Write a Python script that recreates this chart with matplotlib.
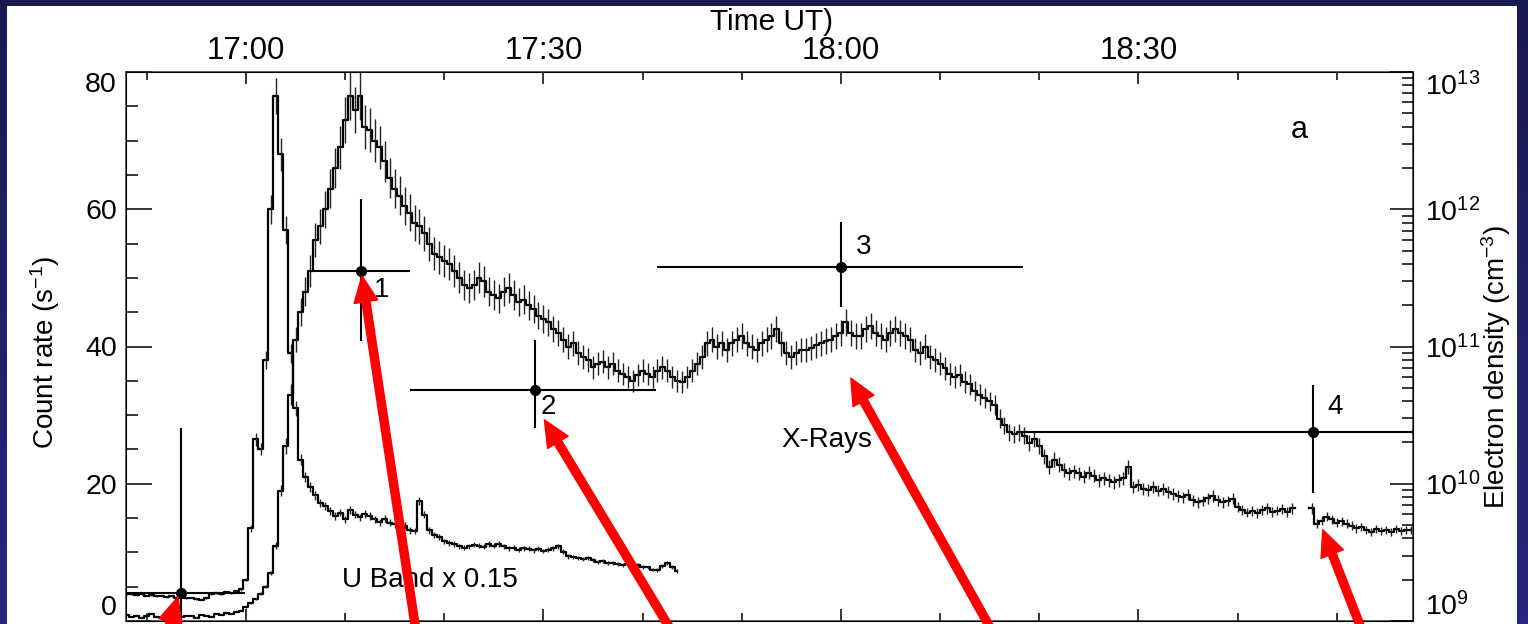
import numpy as np
import matplotlib
matplotlib.use("Agg")
from matplotlib import pyplot as plt
from matplotlib.ticker import MultipleLocator, FuncFormatter, LogLocator, NullFormatter

plt.rcParams['font.family'] = ['Liberation Sans', 'DejaVu Sans']
plt.rcParams['mathtext.fontset'] = 'custom'
plt.rcParams['mathtext.rm'] = 'Liberation Sans'
plt.rcParams['mathtext.it'] = 'Liberation Sans:italic'

# light curves: 30 s bins, first bin centre in minutes after 17:00 UT
xray_t0 = -12.0
xray_rate = [
    0.9, 0.6, 0.8, 0.5, 0.7, 1.0, 0.6, 0.4, 0.7, 0.9, 0.5, 0.6,
    0.8, 0.7, 0.5, 0.9, 0.8, 0.6, 1.0, 0.9, 1.1, 1.0, 1.3, 1.5,
    2.0, 2.6, 3.2, 4.0, 5.0, 7.0, 11.0, 19.0, 25.5, 33.0,
    41.0, 45.0, 48.0, 51.0, 55.5, 57.5, 60.0, 63.0, 66.0, 69.0,
    73.0, 76.5, 74.5, 76.5, 72.0, 71.5, 70.0, 69.0, 67.0, 64.5,
    63.0, 62.0, 60.5, 59.5, 58.0, 57.5, 56.5, 55.0, 53.5, 53.0,
    52.5, 52.0, 51.0, 50.0, 49.0, 48.5, 49.0, 50.0, 49.5, 48.0,
    47.5, 47.0, 48.0, 48.5, 47.5, 46.5, 46.8, 46.0, 45.5, 44.5,
    44.0, 43.5, 42.5, 42.0, 41.0, 40.0, 40.5, 39.0, 38.5, 38.0,
    37.0, 37.5, 37.8, 37.0, 37.5, 36.5, 36.0, 35.5, 35.0, 35.8,
    36.5, 36.0, 35.5, 36.5, 37.0, 36.5, 35.5, 35.0, 34.8, 35.5,
    36.5, 37.5, 38.5, 40.5, 41.0, 40.0, 40.5, 39.5, 40.5, 41.0,
    41.5, 40.5, 40.0, 39.5, 40.5, 41.0, 41.5, 42.5, 40.5, 39.0,
    38.5, 39.0, 39.5, 39.5, 39.8, 40.2, 40.5, 40.8, 41.0, 41.5,
    42.0, 43.5, 42.0, 41.5, 41.5, 42.5, 43.0, 42.0, 41.5, 41.0,
    42.0, 42.5, 42.0, 41.5, 41.0, 39.5, 39.0, 40.0, 38.5, 38.0,
    37.5, 36.8, 36.0, 35.5, 35.8, 34.8, 34.5, 33.5, 33.0, 32.5,
    32.0, 31.5, 29.5, 28.5, 27.5, 27.2, 27.5, 27.0, 26.0, 26.5,
    25.5, 24.0, 22.5, 23.5, 22.8, 22.0, 21.5, 21.8, 21.5, 21.0,
    21.6, 21.2, 20.5, 20.8, 20.5, 20.2, 20.5, 20.8, 22.5, 19.5,
    19.8, 19.3, 19.1, 19.5, 19.0, 19.2, 18.8, 18.5, 18.2, 18.0,
    18.4, 17.6, 17.3, 17.5, 17.9, 18.2, 17.6, 17.3, 17.5, 17.8,
    16.6, 16.2, 15.8, 16.0, 15.7, 16.2, 16.4, 15.9, 16.1, 16.3,
    15.9, 16.4, np.nan, np.nan, np.nan, 16.4, 14.2, 14.6, 15.2, 14.8,
    14.3, 14.5, 14.2, 13.9, 13.5, 13.7, 13.2, 12.9, 13.4, 13.1,
    13.3, 13.0, 13.4, 13.1, 13.3, 13.2,
]

uband_t0 = -12.0
uband_rate = [  # already multiplied by 0.15
    3.9, 4.0, 3.8, 3.9, 3.7, 3.8, 3.6, 3.7, 3.5, 3.6, 3.4, 3.5,
    3.3, 3.4, 3.2, 3.1, 3.3, 3.9, 4.1, 4.0, 4.2, 4.1, 4.3, 4.6,
    6.0, 13.5, 26.5, 25.0, 38.0, 60.0, 76.5, 68.0, 57.0, 39.0,
    31.0, 23.5, 21.0, 19.5, 18.3, 17.2, 16.8, 16.0, 15.3, 15.8,
    14.8, 16.2, 15.5, 15.1, 15.6, 15.3, 14.8, 14.4, 14.9, 14.3,
    14.1, 14.5, 13.9, 13.2, 13.1, 17.5, 15.5, 13.2, 12.6, 12.2,
    11.6, 11.4, 11.2, 10.9, 10.7, 10.9, 11.1, 11.0, 10.8, 11.2,
    11.0, 11.2, 10.9, 10.6, 10.7, 10.4, 10.6, 10.5, 10.3, 10.5,
    10.2, 10.4, 10.6, 10.9, 10.1, 9.4, 9.3, 9.2, 9.0, 9.2,
    8.9, 8.6, 8.7, 8.4, 8.5, 8.3, 8.1, 8.3, 8.0, 8.2,
    7.9, 7.8, 7.5, 7.4, 8.0, 8.4, 7.9, 7.3,
]
xray_frac_err = 0.045
uband_frac_err = 0.035

# electron densities (cm^-3) with time span of each spectrum
dens_t = [-6.6, 11.6, 29.1, 60.0, 107.6]
dens_t_lo = [-13.0, 6.5, 16.5, 41.5, 78.4]
dens_t_hi = [-0.1, 16.5, 41.4, 78.4, 130.0]
dens = [1.6e9, 3.55e11, 4.8e10, 3.8e11, 2.4e10]
dens_lo = [1e8, 1.1e11, 2.55e10, 1.94e11, 8.6e9]
dens_hi = [2.55e10, 1.19e12, 1.11e11, 8.07e11, 5.25e10]
dens_names = ["", "1", "2", "3", "4"]
name_offsets = [(0, 0), (15, -14), (10, -12), (16.5, 14), (16, 18)]

# red arrows (time, count rate)
arrow_tip_t = [-6.85, 11.7, 30.1, 61.0, 108.6]
arrow_tip_c = [3.5, 50.3, 29.3, 35.4, 13.3]
arrow_tail_t = [-9.4, 17.9, 45.9, 78.0, 114.5]
arrow_tail_c = [-8.6, -8.6, -8.6, -8.6, -8.6]

t17 = 17 * 60
xt = t17 + xray_t0 + 0.5 * np.arange(len(xray_rate))
xr = np.array(xray_rate)
ut = t17 + uband_t0 + 0.5 * np.arange(len(uband_rate))
ur = np.array(uband_rate)

W, H = 1528, 624
fig = plt.figure(figsize=(W / 100, H / 100), dpi=100)
fig.patch.set_facecolor('white')

ax = fig.add_axes([126 / W, 3 / H, 1287 / W, 549 / H])
ax.step(xt, xr, where='mid', color='black', lw=1.6)
ax.errorbar(xt, xr, yerr=xr * xray_frac_err, fmt='none', ecolor='#222222', elinewidth=1.0)
ax.step(ut, ur, where='mid', color='black', lw=1.6)
ax.errorbar(ut, ur, yerr=ur * uband_frac_err, fmt='none', ecolor='#222222', elinewidth=1.0)

ax.set_xlim(t17 - 12.1, t17 + 117.7)
ax.set_ylim(0, 80)
ax.xaxis.set_major_locator(MultipleLocator(30))
ax.xaxis.set_minor_locator(MultipleLocator(10))
ax.xaxis.set_major_formatter(FuncFormatter(lambda v, p: "%d:%02d" % divmod(int(round(v)), 60)))
ax.yaxis.set_major_locator(MultipleLocator(20))
ax.yaxis.set_minor_locator(MultipleLocator(5))
ax.tick_params(axis='x', which='both', direction='in', top=True, bottom=True,
               labeltop=True, labelbottom=False, labelsize=22.5, pad=4, width=1.1)
ax.tick_params(axis='x', which='major', length=8.6)
ax.tick_params(axis='x', which='minor', length=5.8)
ax.tick_params(axis='y', which='both', direction='in', right=False, labelsize=20.5, pad=6.5, width=1.1)
ax.tick_params(axis='y', which='major', length=18.7)
ax.tick_params(axis='y', which='minor', length=8.6)
for s in ax.spines.values():
    s.set_linewidth(1.1)
    s.set_color('#333333')

ax.text(t17 + 58.6, 26.4, "X-Rays", fontsize=20, ha='center', va='center')
ax.text(t17 + 18.6, 6.0, "U Band x 0.15", fontsize=20, ha='center', va='center')
ax.text(0.912, 0.894, "a", transform=ax.transAxes, fontsize=22, ha='center', va='center')

ax2 = ax.twinx()
ax2.set_yscale('log')
ax2.set_ylim(1e9, 1e13)
dt = t17 + np.array(dens_t)
dn = np.array(dens)
ax2.errorbar(dt, dn,
             xerr=[dt - (t17 + np.array(dens_t_lo)), (t17 + np.array(dens_t_hi)) - dt],
             yerr=[dn - np.array(dens_lo), np.array(dens_hi) - dn],
             fmt='o', ms=7, color='black', elinewidth=1.5, capsize=0)
for x, y, name, off in zip(dt, dn, dens_names, name_offsets):
    if name:
        ax2.annotate(name, (x, y), xytext=off, textcoords='offset points',
                     fontsize=20, ha='center', va='center')
ax2.yaxis.set_major_locator(LogLocator(base=10))
ax2.yaxis.set_minor_locator(LogLocator(base=10, subs=np.arange(2, 10)))
ax2.yaxis.set_minor_formatter(NullFormatter())
ax2.tick_params(axis='y', which='both', direction='in', labelsize=20.5, pad=8.6, width=1.1)
ax2.tick_params(axis='y', which='major', length=16.5)
ax2.tick_params(axis='y', which='minor', length=8)

for tt, tc, st, sc in zip(arrow_tip_t, arrow_tip_c, arrow_tail_t, arrow_tail_c):
    ax2.annotate("", xy=(t17 + tt, tc), xycoords=ax.transData,
                 xytext=(t17 + st, sc), textcoords=ax.transData,
                 arrowprops=dict(arrowstyle="simple,head_length=0.94,head_width=0.86,tail_width=0.29",
                                 mutation_scale=20, color='red', shrinkA=0, shrinkB=0),
                 annotation_clip=False)

fig.text(45 / W, 1 - 352 / H, "Count rate (s$^{-1}$)", rotation=90, fontsize=20,
         ha='center', va='center')
fig.text(1496 / W, 1 - 367 / H, "Electron density (cm$^{-3}$)", rotation=90, fontsize=20,
         ha='center', va='center')
fig.text(772 / W, 1 - 22 / H, "Time UT)", fontsize=21.5, ha='center', va='center')

fig.canvas.draw()
for lab in ax.get_yticklabels():
    y = lab.get_position()[1]
    if np.isclose(y, 80):
        lab.set_va('top')
    elif np.isclose(y, 0):
        lab.set_va('bottom')
for lab in ax2.get_yticklabels():
    y = lab.get_position()[1]
    if np.isclose(y, 1e13):
        lab.set_va('top')
    elif np.isclose(y, 1e9):
        lab.set_va('bottom')

# navy slide frame around the white panel
yy = np.linspace(0, 1, H)[:, None, None]
top_c = np.array([27, 26, 80]) / 255
bot_c = np.array([40, 40, 128]) / 255
frame = np.zeros((H, W, 4))
frame[..., :3] = top_c + (bot_c - top_c) * yy
frame[:6, :, 3] = 1
frame[:, :7, 3] = 1
frame[:, 1517:, 3] = 1
bax = fig.add_axes([0, 0, 1, 1], zorder=10)
bax.imshow(frame, aspect='auto', interpolation='nearest')
bax.axis('off')

fig.savefig("out.png", dpi=100)
